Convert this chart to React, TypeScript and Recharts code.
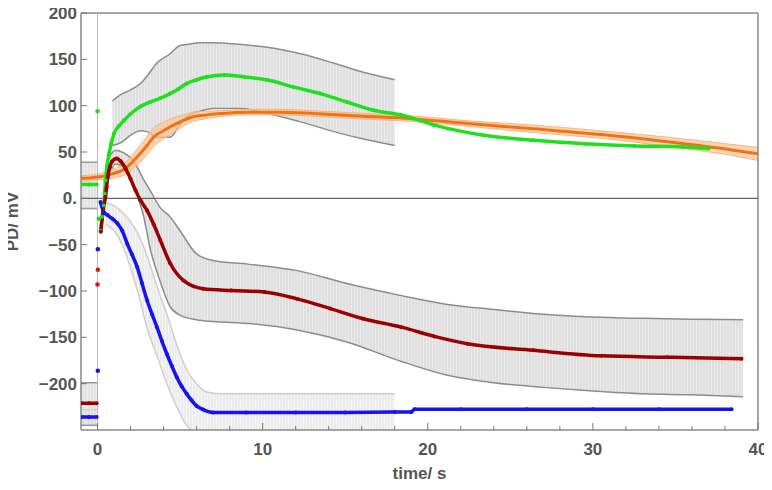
import React from "react";
import {
  ComposedChart,
  Line,
  Area,
  Scatter,
  XAxis,
  YAxis,
  ReferenceLine,
} from "recharts";

// time axis ticks (minor every 2 s, labels on the 10s)
const timeTicks = [0, 2, 4, 6, 8, 10, 12, 14, 16, 18, 20, 22, 24, 26, 28, 30, 32, 34, 36, 38, 40];
const pdTicks = [-200, -150, -100, -50, 0, 50, 100, 150, 200];

// green trace
const greenT = [-1, -0.5, -0.05, 0, 0.18, 0.28, 0.38, 0.43, 0.48, 0.58, 0.7, 0.83, 1.0, 1.3, 1.6, 2.0, 2.6, 3.2, 3.8, 4.4, 4.9, 5.4, 6.0, 6.6, 7.7, 8.9, 10.3, 11.9, 13.5, 15.1, 16.7, 18.4, 20.4, 23.4, 26.4, 29.5, 32.5, 35.5, 37];
const greenV = [15, 15, 15, null, -35, -20, -7.6, 5, 19.5, 35.7, 48, 59, 70, 78, 84, 91, 99, 104, 108, 113, 118, 124, 128, 131, 133, 131, 127.6, 120, 113, 104, 95, 90, 79, 68, 62.7, 59, 56.6, 55.5, 53.7];
const greenBandT = [0.9, 1.4, 2.0, 2.6, 3.0, 3.6, 4.4, 5.0, 5.4, 6.2, 7.0, 8.7, 10.3, 12.3, 14.3, 16.1, 18.0];
const greenLo = [57, 60, 68, 73, 72, 66, 66, 80, 88, 94, 97, 97, 91.5, 82.5, 72, 64, 57];
const greenHi = [105, 112, 117, 124, 132, 146, 156, 165, 166, 168, 168, 166, 163, 156, 146, 136, 128];

// orange trace
const orangeT = [-1, -0.5, 0, 0.5, 1.0, 1.6, 2.1, 2.6, 3.0, 3.4, 4.0, 4.6, 5.2, 5.8, 6.6, 7.5, 9.1, 11.1, 13.1, 16.1, 19, 22.4, 26.4, 30.5, 34.5, 38.5, 40];
const orangeV = [21.6, 22, 23, 24.5, 27, 31, 39, 48.6, 57, 66, 73, 79, 84, 88, 90, 91.5, 93, 93, 91.5, 88.6, 86, 80.7, 75, 68.8, 61, 52, 48];
const orangeLo = [18.6, 19, 20, 20.5, 22, 25, 31, 39.6, 47, 56, 64, 71, 78, 83, 86, 88.5, 90, 90, 88.5, 85.6, 83, 77.7, 71, 64.8, 56, 46, 41];
const orangeHi = [24.6, 25, 26, 28.5, 32, 37, 47, 57.6, 67, 76, 82, 87, 90, 93, 94, 94.5, 96, 96, 94.5, 91.6, 89, 83.7, 79, 72.8, 66, 58, 55];

// dark red trace
const redT = [-1, -0.5, -0.05, 0, 0.2, 0.35, 0.48, 0.55, 0.62, 0.75, 0.89, 1.15, 1.4, 1.7, 2.0, 2.3, 2.6, 3.0, 3.4, 3.8, 4.4, 5.2, 6.4, 8.1, 10.1, 12.1, 14.1, 16.1, 18.4, 20.4, 22.4, 26.4, 30.5, 34.5, 39];
const redV = [-221, -221, -221, null, -36, -12, 1.4, 12, 23, 34, 40, 43, 40, 32, 21, 8.6, -2, -13, -28, -45, -70, -88.6, -97.6, -99.5, -101, -108.5, -119, -130, -139, -149, -157, -164, -170, -171.5, -173];
const redBandT = [0.7, 1.1, 1.6, 2.2, 2.8, 3.2, 3.8, 4.4, 5.0, 6.0, 7.0, 9.1, 12.1, 15.1, 18.4, 21, 24, 27, 30, 33, 36, 39.1];
const redLo = [25, 37, 33, 12, -20, -55, -90, -117, -126, -131, -133, -135, -142, -155, -176, -190, -199, -204, -208, -211, -212, -214];
const redHi = [45, 52, 49, 40, 20, 8, -10, -20, -35, -60, -67, -71, -78, -92, -105, -114, -120, -125, -128, -129.5, -130.5, -131];

// blue trace
const blueT = [-1, -0.5, -0.05, 0, 0.18, 0.38, 0.6, 0.9, 1.2, 1.5, 1.8, 2.1, 2.4, 2.7, 3.0, 3.3, 3.6, 3.9, 4.2, 4.5, 4.8, 5.1, 5.4, 5.7, 6.0, 6.4, 7.0, 9, 12, 15, 18, 19, 19.2, 22, 26, 30, 34, 38.4];
const blueV = [-236, -236, -236, null, -4, -15, -18, -22, -27, -35, -49, -61, -74, -92, -110, -125, -139, -154, -168, -181, -193, -203, -211, -218, -224, -228, -231, -231, -231, -231, -230.5, -230.5, -227.5, -227.5, -227.5, -227.5, -227.5, -227.5];
const blueBandT = [0.5, 1.0, 1.5, 2.0, 2.5, 3.0, 3.6, 4.2, 4.8, 5.4, 6.0, 6.6, 7.5, 18];
const blueLo = [-28, -35, -50, -75, -105, -140, -170, -200, -225, -245, -252, -252, -252, -252];
const blueHi = [-5, -8, -15, -25, -40, -62, -95, -125, -158, -185, -200, -209, -211, -211];

// bands before the stimulus (t < 0)
const preT = [-1, -0.02];
const preGreenBand = [-11, 39];
const preRedBand = [-245, -199];
const preBlueBand = [-244, -228];

// single points at t = 0
const greenSpotT = [0, 0.08];
const greenSpotV = [94, -22];
const redSpotT = [0.02, 0.0];
const redSpotV = [-77, -93];
const blueSpotT = [0.02, 0.02];
const blueSpotV = [-186, -55];

const FONT = "'Liberation Sans', Arial, sans-serif";
const INK = "#555";

const zip = (t: number[], v: (number | null)[]) => t.map((x, i) => ({ t: x, v: v[i] }));
const band = (t: number[], lo: number[], hi: number[]) =>
  t.map((x, i) => ({ t: x, b: [lo[i], hi[i]] }));
const flat = (t: number[], r: number[]) => t.map((x) => ({ t: x, b: r }));

const greenData = zip(greenT, greenV);
const orangeData = zip(orangeT, orangeV);
const redData = zip(redT, redV);
const blueData = zip(blueT, blueV);

function TimeTick(props: any) {
  const { x, y, payload } = props;
  const v = payload.value;
  const major = v % 10 === 0;
  return (
    <g>
      <line x1={x} x2={x} y1={y} y2={y - (major ? 7 : 4)} stroke="#777" strokeWidth={1} />
      {major && (
        <text x={x} y={y + 25} textAnchor="middle" fill={INK} fontSize={17} fontWeight="bold" fontFamily={FONT}>
          {v}
        </text>
      )}
    </g>
  );
}

function PdTick(props: any) {
  const { x, y, payload } = props;
  const v = payload.value;
  const label = v === 0 ? "0." : v < 0 ? "\u2212" + -v : String(v);
  return (
    <g>
      <line x1={x} x2={x + 6} y1={y} y2={y} stroke="#777" strokeWidth={1} />
      <text x={x - 4} y={y + 6} textAnchor="end" fill={INK} fontSize={17} fontWeight="bold" fontFamily={FONT}>
        {label}
      </text>
    </g>
  );
}

export default function App() {
  return (
    <div style={{ margin: "-8px 0 0 -8px", width: 772, height: 490 }}>
      <ComposedChart width={772} height={490} margin={{ top: 13, right: 14, bottom: 0, left: 0 }}>
        <defs>
          <pattern id="stripe" width="3" height="10" patternUnits="userSpaceOnUse">
            <rect width="3" height="10" fill="#dcdcdc" />
            <rect width="1" height="10" fill="#e9e9e9" />
          </pattern>
          <pattern id="stripeLight" width="3" height="10" patternUnits="userSpaceOnUse">
            <rect width="3" height="10" fill="#ececec" />
            <rect width="1" height="10" fill="#f5f5f5" />
          </pattern>
        </defs>
        <XAxis
          dataKey="t"
          type="number"
          domain={[-1, 40]}
          ticks={timeTicks}
          interval={0}
          allowDataOverflow
          height={60}
          tickSize={0}
          tickMargin={0}
          tick={<TimeTick />}
          axisLine={{ stroke: "#888", strokeWidth: 1.5 }}
          label={{ value: "time/ s", position: "insideBottom", offset: 11, fill: INK, fontSize: 17, fontWeight: "bold", fontFamily: FONT }}
        />
        <YAxis
          type="number"
          domain={[-250, 200]}
          ticks={pdTicks}
          interval={0}
          allowDataOverflow
          width={81}
          tickSize={0}
          tickMargin={0}
          tick={<PdTick />}
          axisLine={{ stroke: "#888", strokeWidth: 1.5 }}
          label={{ value: "PD/ mV", angle: -90, position: "insideLeft", offset: 12, fill: INK, fontSize: 17, fontWeight: "bold", fontFamily: FONT, style: { textAnchor: "middle" } }}
        />
        <ReferenceLine y={200} stroke="#888" strokeWidth={1.5} />
        <ReferenceLine x={40} stroke="#888" strokeWidth={1.5} />
        <ReferenceLine x={0} stroke="#bbb" strokeWidth={1} />

        <Area data={band(blueBandT, blueLo, blueHi)} dataKey="b" type="monotone" fill="url(#stripeLight)" fillOpacity={1} stroke="#cfcfcf" strokeWidth={1.5} isAnimationActive={false} />
        <Area data={flat(preT, preBlueBand)} dataKey="b" type="linear" fill="url(#stripeLight)" fillOpacity={1} stroke="#aaa" strokeWidth={1.5} isAnimationActive={false} />
        <Area data={flat(preT, preRedBand)} dataKey="b" type="linear" fill="url(#stripe)" fillOpacity={0.8} stroke="#999" strokeWidth={1.5} isAnimationActive={false} />
        <Area data={flat(preT, preGreenBand)} dataKey="b" type="linear" fill="url(#stripe)" fillOpacity={0.8} stroke="#999" strokeWidth={1.5} isAnimationActive={false} />
        <Area data={band(redBandT, redLo, redHi)} dataKey="b" type="monotone" fill="url(#stripe)" fillOpacity={0.9} stroke="#8c8c8c" strokeWidth={1.5} isAnimationActive={false} />
        <Area data={band(greenBandT, greenLo, greenHi)} dataKey="b" type="monotone" fill="url(#stripe)" fillOpacity={0.9} stroke="#8c8c8c" strokeWidth={1.5} isAnimationActive={false} />
        <Area data={band(orangeT, orangeLo, orangeHi)} dataKey="b" type="monotone" fill="#fbc594" fillOpacity={0.7} stroke="#f8b57a" strokeWidth={1} isAnimationActive={false} />

        <ReferenceLine y={0} stroke="#666" strokeWidth={1.2} />

        <Line data={orangeData} dataKey="v" type="monotone" stroke="#f07214" strokeWidth={3} dot={false} isAnimationActive={false} />
        <Line data={greenData} dataKey="v" type="monotone" stroke="#1fe01f" strokeWidth={3.5} dot={{ r: 2, fill: "#1fe01f", stroke: "none" }} isAnimationActive={false} />
        <Line data={redData} dataKey="v" type="monotone" stroke="#9a0000" strokeWidth={3.5} dot={{ r: 2, fill: "#9a0000", stroke: "none" }} isAnimationActive={false} />
        <Line data={blueData} dataKey="v" type="monotone" stroke="#1414f0" strokeWidth={3.5} dot={{ r: 2, fill: "#1414f0", stroke: "none" }} isAnimationActive={false} />

        <Scatter data={zip(greenSpotT, greenSpotV)} dataKey="v" fill="#1fe01f" shape={(p: any) => <circle cx={p.cx} cy={p.cy} r={2.3} fill="#1fe01f" />} isAnimationActive={false} />
        <Scatter data={zip(redSpotT, redSpotV)} dataKey="v" fill="#e01010" shape={(p: any) => <circle cx={p.cx} cy={p.cy} r={2.3} fill="#e01010" />} isAnimationActive={false} />
        <Scatter data={zip(blueSpotT, blueSpotV)} dataKey="v" fill="#1414f0" shape={(p: any) => <circle cx={p.cx} cy={p.cy} r={2.3} fill="#1414f0" />} isAnimationActive={false} />
      </ComposedChart>
    </div>
  );
}
